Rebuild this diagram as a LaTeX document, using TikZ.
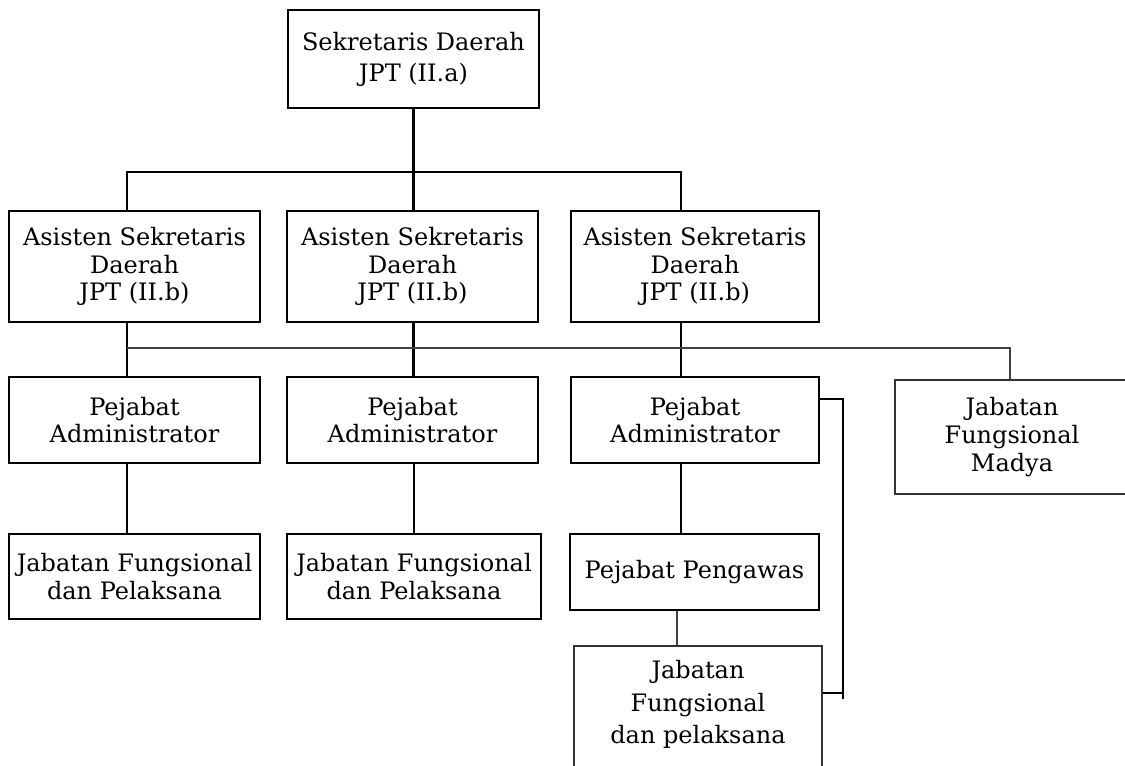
\documentclass[tikz,border=0pt]{standalone}
\usepackage{fontspec}
\setmainfont{DejaVu Serif}
\usetikzlibrary{calc}
\begin{document}
\begin{tikzpicture}[x=0.75pt,y=-0.75pt,
  boxtext/.style={align=center,inner sep=0pt,
    font=\fontsize{18}{20.8}\selectfont},
  mainbox/.style={boxtext,draw,line width=2.1pt},
  lightbox/.style={boxtext,draw=black!80,line width=0.8pt},
  link/.style={line width=2.1pt},
  thinlink/.style={draw=black!75,line width=0.8pt}]
\useasboundingbox (0,0) rectangle (1125,765);
\clip (0,0) rectangle (1125,765);

% top level
\node[mainbox,minimum width=188.25pt,minimum height=73.5pt] (sekda) at (413.5,59)
  {Sekretaris Daerah\\[2.5pt]JPT (II.a)};

% assistants
\node[mainbox,minimum width=188.25pt,minimum height=83.25pt] (as1) at (134.5,266.5)
  {Asisten Sekretaris\\Daerah\\JPT (II.b)};
\node[mainbox,minimum width=188.25pt,minimum height=83.25pt] (as2) at (412.5,266.5)
  {Asisten Sekretaris\\Daerah\\JPT (II.b)};
\node[mainbox,minimum width=186pt,minimum height=83.25pt] (as3) at (695,266.5)
  {Asisten Sekretaris\\Daerah\\JPT (II.b)};

% administrators
\node[mainbox,minimum width=188.25pt,minimum height=64.5pt] (pa1) at (134.5,420)
  {Pejabat\\Administrator};
\node[mainbox,minimum width=188.25pt,minimum height=64.5pt] (pa2) at (412.5,420)
  {Pejabat\\Administrator};
\node[mainbox,minimum width=186pt,minimum height=64.5pt] (pa3) at (695,420)
  {Pejabat\\Administrator};

% functional staff and supervisor
\node[mainbox,minimum width=188.25pt,minimum height=63.75pt] (jf1) at (134.5,576.5)
  {Jabatan Fungsional\\dan Pelaksana};
\node[mainbox,minimum width=190.5pt,minimum height=63.75pt] (jf2) at (414,576.5)
  {Jabatan Fungsional\\dan Pelaksana};
\node[mainbox,minimum width=186.75pt,minimum height=57pt] (pp) at (694.5,572)
  {Pejabat Pengawas};
% box runs past the lower edge; the strut lifts the text a little
\node[lightbox,minimum width=186pt,minimum height=96.75pt] (jfp) at (698,710.5)
  {Jabatan\\[3.5pt]Fungsional\\[3.5pt]dan pelaksana\rule[-12.5pt]{0pt}{0pt}};
\node[lightbox,minimum width=175.5pt,minimum height=85.5pt] (madya) at (1012,437)
  {Jabatan\\Fungsional\\Madya};

% routing points
\coordinate (b1) at (127,172);
\coordinate (b3) at (681,172);
\coordinate (fn) at (1010,348);
\coordinate (tx) at (677,0);
\coordinate (brt) at (843,399);
\coordinate (brm) at (843,693);
\coordinate (brb) at (843,699);

% main tree
\draw[link] (sekda.south) -- (sekda.south |- b1);
\draw[link] (b1 |- as1.north) -- (b1) -- (b3) -- (b3 |- as3.north);
\draw[link] (sekda.south |- b1) -- (sekda.south |- as2.north);
\draw[link] (as1.south -| b1) -- (pa1.north -| b1);
\draw[link] (as2.south -| sekda.south) -- (pa2.north -| sekda.south);
\draw[link] (as3.south -| b3) -- (pa3.north -| b3);
\draw[link] (pa1.south -| b1) -- (jf1.north -| b1);
\draw[link] (pa2.south -| jf2.north) -- (jf2.north);
\draw[link] (pa3.south -| b3) -- (pp.north -| b3);

% functional lines
\draw[thinlink] (b1 |- fn) -- (fn) -- (fn |- madya.north);
\draw[thinlink] (pp.south -| tx) -- (jfp.north -| tx);

% side bracket
\draw[link] (pa3.east |- brt) -- (brt) -- (brb);
\draw[link] (jfp.east |- brm) -- (brm);
\end{tikzpicture}
\end{document}
